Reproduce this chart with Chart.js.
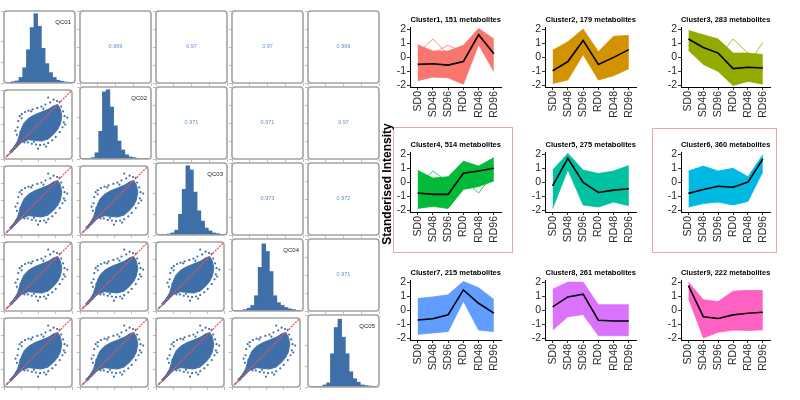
<!DOCTYPE html>
<html><head><meta charset="utf-8">
<script src="https://cdn.jsdelivr.net/npm/chart.js@4.4.0/dist/chart.umd.min.js"></script>
<style>
body{margin:0;background:#fff;width:800px;height:400px;overflow:hidden;position:relative;font-family:"Liberation Sans",Arial,sans-serif}
canvas{position:absolute}
.txt{position:absolute;white-space:nowrap}
</style></head><body>
<script>
// ---------- DATA ----------
const qcNames = ['QC01','QC02','QC03','QC04','QC05'];
const histQC01 = [1,1,2,3,8,22,48,80,100,82,50,28,15,8,4,2.5,1.5,1,0.5];
const histQC02 = [0.5,1,1,2,9,40,97,100,75,48,26,13,6,3,2,1,0.8,0.5,0.3];
const histQC03 = [0.5,1,1,1.5,3,7,30,66,100,94,62,35,20,10,6,3,2,1,0.5];
const histQC04 = [0.5,1,1,2,4,8,22,63,97,86,57,22,12,8,5,3,2,1,0.5];
const histQC05 = [0.3,0.5,1,1,3,6,48,86,98,72,48,22,12,7,3,2,1.5,1,0.5];
const corrQC01 = [0.969,0.97,0.97,0.969];
const corrQC02 = [0.971,0.971,0.97];
const corrQC03 = [0.973,0.972];
const corrQC04 = [0.971];
// scatter cloud of the QC-vs-QC panels: edges of the dense core and the sparse points around it
const blobUpper = [[0.8,1.0],[1.5,1.8],[2.0,2.6],[2.3,3.6],[2.6,4.5],[3.0,5.3],[3.6,5.9],[4.5,6.4],[5.5,6.8],[6.5,7.2],[7.3,7.7],[7.9,7.9],[8.3,7.2],[8.5,6.2]];
const blobLower = [[0.8,0.7],[1.5,1.3],[2.0,1.8],[2.3,2.1],[2.6,2.4],[3.0,2.6],[3.6,2.8],[4.5,2.7],[5.5,2.6],[6.5,2.9],[7.3,3.6],[7.9,4.3],[8.3,5.1],[8.5,6.2]];
const scatterPoints = [[0.5,0.5],[1.2,1.1],[1.8,1.9],[2.1,2.3],[1.9,3.5],[2.0,4.6],[2.1,5.5],[1.7,4.1],[2.3,6.2],[2.6,6.5],[3.1,6.8],[3.6,7.0],[4.2,7.2],[4.9,7.4],[5.5,7.6],[6.1,7.9],[6.8,8.2],[7.3,8.6],[6.5,8.9],[7.8,8.4],[8.2,8.3],[8.4,7.6],[8.7,6.9],[8.9,6.2],[8.8,5.3],[8.6,4.6],[9.0,5.0],[9.3,6.0],[8.2,3.9],[7.6,3.2],[7.1,2.7],[6.5,2.3],[5.9,2.1],[5.3,2.0],[4.7,2.1],[4.1,2.2],[3.5,2.4],[3.0,2.4],[5.0,1.5],[6.2,1.8],[2.4,3.9],[2.6,5.9],[4.0,6.9],[5.8,7.3],[7.6,7.0],[8.0,5.6],[7.8,4.4],[4.4,2.5],[3.2,2.7]];
const identityLine = [[0,0],[10,10]];

const timepoints = ['SD0','SD48','SD96','RD0','RD48','RD96'];
const clusterSizes = [151,179,283,514,275,360,215,261,222];
const meanC1 = [-0.5,-0.45,-0.55,-0.3,1.6,0.25];
const hiC1 = [0.9,0.45,0.45,0.85,2.05,1.3];
const loC1 = [-1.65,-1.4,-1.45,-1.9,0.9,-1.0];
const outC1 = [[0.3,1.3,0.2,0.5,1.8,0.8],[0.2,0.3,0.85,0.4,1.9,1.1]];
const meanC2 = [-0.95,-0.3,1.2,-0.5,0.0,0.55];
const hiC2 = [0.5,1.1,2.0,0.4,1.5,1.55];
const loC2 = [-1.85,-1.6,0.2,-1.6,-1.3,-0.8];
const outC2 = [];
const meanC3 = [1.3,0.7,0.3,-0.8,-0.7,-0.75];
const hiC3 = [1.9,1.6,1.3,0.3,0.3,0.2];
const loC3 = [0.5,-0.5,-1.0,-2.0,-1.7,-1.9];
const outC3 = [[0.9,0.6,0.0,1.3,0.3,-0.2],[0.5,0.3,-0.4,0.0,-0.5,1.05],[0.8,0.2,-0.3,-1.3,-1.75,-0.6]];
const meanC4 = [-0.75,-0.85,-0.85,0.65,0.8,1.0];
const hiC4 = [0.85,0.3,0.4,1.5,1.15,1.75];
const loC4 = [-1.85,-1.7,-1.85,-0.5,-0.3,0.1];
const outC4 = [[-0.2,0.8,0.0,0.9,0.8,1.2],[-0.5,-0.6,-0.7,0.2,-0.75,0.6]];
const meanC5 = [-0.25,1.7,0.0,-0.72,-0.55,-0.45];
const hiC5 = [0.87,2.05,0.87,0.63,0.8,1.2];
const loC5 = [-1.85,0.9,-1.6,-1.75,-1.4,-1.65];
const outC5 = [];
const meanC6 = [-0.78,-0.5,-0.28,-0.35,0.02,1.65];
const hiC6 = [0.8,1.15,0.8,1.0,0.4,1.95];
const loC6 = [-1.75,-1.5,-1.4,-1.6,-1.35,0.75];
const outC6 = [];
const meanC7 = [-0.68,-0.6,-0.32,1.45,0.5,-0.2];
const hiC7 = [0.84,0.95,1.1,2.05,1.6,0.77];
const loC7 = [-1.7,-1.6,-1.5,0.65,-1.4,-1.5];
const outC7 = [];
const meanC8 = [0.25,0.95,1.15,-0.7,-0.75,-0.75];
const hiC8 = [1.5,2.0,2.0,0.4,0.4,0.4];
const loC8 = [-1.4,-0.45,-0.3,-1.8,-1.8,-1.8];
const outC8 = [];
const meanC9 = [1.75,-0.45,-0.58,-0.32,-0.2,-0.13];
const hiC9 = [2.0,0.75,0.62,1.35,1.42,1.4];
const loC9 = [0.85,-1.95,-1.55,-1.4,-1.42,-1.38];
const outC9 = [];
const yTickValues = [-2,-1,0,1,2];

// ---------- STYLE / LAYOUT ----------
Chart.defaults.font.family = '"Liberation Sans", Arial, sans-serif';
Chart.defaults.animation = false;
Chart.defaults.devicePixelRatio = 1;
Chart.defaults.responsive = false;
Chart.defaults.plugins.legend.display = false;
Chart.defaults.plugins.tooltip.enabled = false;

const blue = '#3f6fa8';
const clusterColors = ['#F8766D','#D39200','#93AA00','#00BA38','#00C19F','#00B9E3','#619CFF','#DB72FB','#FF61C3'];

const panelBorder = {
  id: 'panelBorder',
  afterDraw(chart, args, opts) {
    if (!opts || !opts.color) return;
    const {ctx, chartArea: a} = chart;
    ctx.save();
    ctx.strokeStyle = opts.color; ctx.lineWidth = opts.width;
    ctx.beginPath();
    ctx.roundRect(a.left, a.top, a.right - a.left, a.bottom - a.top, opts.radius);
    ctx.stroke();
    ctx.restore();
  }
};

function makeCanvas(left, top, w, h) {
  const c = document.createElement('canvas');
  c.width = w; c.height = h;
  c.style.left = left + 'px'; c.style.top = top + 'px';
  c.style.width = w + 'px'; c.style.height = h + 'px';
  document.body.appendChild(c);
  return c;
}
function addText(text, left, top, css) {
  const d = document.createElement('div');
  d.className = 'txt'; d.textContent = text;
  d.style.left = left + 'px'; d.style.top = top + 'px';
  Object.assign(d.style, css || {});
  document.body.appendChild(d);
  return d;
}
const pts = arr => arr.map(p => ({x: p[0], y: p[1]}));

// ---------- PAIRS PLOT ----------
const histograms = [histQC01, histQC02, histQC03, histQC04, histQC05];
const corrRows = [corrQC01, corrQC02, corrQC03, corrQC04];
const binLabels = histQC01.map((_, k) => k);

function pairScales(isHist) {
  const tickGrid = {drawOnChartArea: false, tickLength: 3, color: '#bdbdbd', lineWidth: 1};
  return {
    x: isHist
      ? {type: 'category', ticks: {display: false}, grid: {display: false}, border: {display: false}, afterFit: s => { s.height = 5; }}
      : {type: 'linear', min: 0, max: 10, ticks: {display: false, stepSize: 2.5}, grid: tickGrid, border: {display: false}, afterFit: s => { s.height = 5; }},
    y: isHist
      ? {min: 0, max: 104, ticks: {display: false, stepSize: 30}, grid: tickGrid, border: {display: false}, afterFit: s => { s.width = 5; }}
      : {min: 0, max: 10, ticks: {display: false, stepSize: 2.5}, grid: tickGrid, border: {display: false}, afterFit: s => { s.width = 5; }}
  };
}
const borderOpts = {color: '#a3a3a3', width: 1.6, radius: 3};

for (let i = 0; i < 5; i++) {
  for (let j = 0; j < 5; j++) {
    const x0 = 4 + 76 * j, y0 = 11 + 76 * i, w = 71, h = 72;
    const cv = makeCanvas(x0 - 5, y0 - 1, w + 6, h + 6);
    const base = {layout: {padding: {top: 1, right: 1, left: 0, bottom: 0}}, plugins: {panelBorder: borderOpts}};
    if (i === j) {
      new Chart(cv, {
        type: 'bar',
        data: {labels: binLabels, datasets: [{data: histograms[i], backgroundColor: blue, borderWidth: 0, barPercentage: 1, categoryPercentage: 1}]},
        options: Object.assign({}, base, {scales: pairScales(true)}),
        plugins: [panelBorder]
      });
      addText(qcNames[i], x0 + w - 22, y0 + 8, {fontSize: '6px', color: '#222', width: '18px', textAlign: 'right'});
    } else if (i > j) {
      new Chart(cv, {
        type: 'line',
        data: {datasets: [
          {data: pts(identityLine), borderColor: 'rgb(240,80,80)', backgroundColor: 'rgb(240,80,80)', borderWidth: 1.2, borderDash: [2, 1], pointRadius: 0, fill: false},
          {data: pts(scatterPoints), showLine: false, pointRadius: 1.1, pointBackgroundColor: blue, pointBorderColor: blue, pointBorderWidth: 0},
          {data: pts(blobUpper), borderColor: blue, borderWidth: 1, pointRadius: 0, tension: 0, fill: '+1', backgroundColor: blue},
          {data: pts(blobLower), borderColor: blue, borderWidth: 1, pointRadius: 0, tension: 0, fill: false}
        ]},
        options: Object.assign({}, base, {scales: pairScales(false)}),
        plugins: [panelBorder]
      });
    } else {
      new Chart(cv, {
        type: 'line',
        data: {datasets: []},
        options: Object.assign({}, base, {scales: pairScales(false)}),
        plugins: [panelBorder]
      });
      const v = corrRows[i][j - i - 1];
      addText(String(v), x0, y0 + h / 2 - 4, {fontSize: '5.5px', color: '#5f8fcf', width: w + 'px', textAlign: 'center'});
    }
  }
}

// ---------- CLUSTER PANELS ----------
const clusterMeans = [meanC1, meanC2, meanC3, meanC4, meanC5, meanC6, meanC7, meanC8, meanC9];
const clusterHi = [hiC1, hiC2, hiC3, hiC4, hiC5, hiC6, hiC7, hiC8, hiC9];
const clusterLo = [loC1, loC2, loC3, loC4, loC5, loC6, loC7, loC8, loC9];
const clusterOut = [outC1, outC2, outC3, outC4, outC5, outC6, outC7, outC8, outC9];
const colLeft = [410, 545, 681], colW = [95, 95, 93], rowTop = [27, 152, 280];
const areaH = 60, yAxisW = 20, titleH = 15, xAxisH = 32;

for (let k = 0; k < 9; k++) {
  const r = Math.floor(k / 3), c = k % 3;
  const L = colLeft[c], T = rowTop[r], W = colW[c];
  const cv = makeCanvas(L - yAxisW, T - titleH, W + yAxisW + 3, areaH + titleH + xAxisH);
  const col = clusterColors[k];
  const ds = [{data: clusterMeans[k], borderColor: '#000', borderWidth: 1.6, pointRadius: 0, fill: false}];
  clusterOut[k].forEach(o => ds.push({data: o, borderColor: col, borderWidth: 0.8, pointRadius: 0, fill: false}));
  ds.push({data: clusterHi[k], borderColor: col, borderWidth: 0.8, pointRadius: 0, fill: '+1', backgroundColor: col});
  ds.push({data: clusterLo[k], borderColor: col, borderWidth: 0.8, pointRadius: 0, fill: false});
  new Chart(cv, {
    type: 'line',
    data: {labels: timepoints, datasets: ds},
    options: {
      layout: {padding: {top: 0, right: 3, left: 0, bottom: 0}},
      elements: {line: {tension: 0}},
      plugins: {
        title: {display: true, fullSize: false, text: 'Cluster' + (k + 1) + ', ' + clusterSizes[k] + ' metabolites',
          color: '#000', font: {size: 7.5, weight: 'bold'}, padding: {top: 3, bottom: 3}}
      },
      scales: {
        x: {type: 'category', offset: true, afterFit: s => { s.height = xAxisH; },
          ticks: {color: '#2b2b2b', font: {size: 10.5}, minRotation: 90, maxRotation: 90, autoSkip: false, padding: 1},
          grid: {drawOnChartArea: false, offset: false, tickLength: 3, color: '#333'},
          border: {display: true, color: '#000', width: 1}},
        y: {min: -2.1, max: 2.15, afterFit: s => { s.width = yAxisW; },
          afterBuildTicks: s => { s.ticks = yTickValues.map(v => ({value: v})); },
          ticks: {color: '#2b2b2b', font: {size: 10.5}, padding: 1, autoSkip: false},
          grid: {drawOnChartArea: false, tickLength: 3, color: '#333'},
          border: {display: true, color: '#000', width: 1}}
      }
    }
  });
}

// highlight boxes and shared y label
function box(l, t, r, b) {
  const d = document.createElement('div');
  Object.assign(d.style, {position: 'absolute', left: l + 'px', top: t + 'px', width: (r - l) + 'px', height: (b - t) + 'px', border: '1px solid #f2a3a3', boxSizing: 'border-box'});
  document.body.appendChild(d);
}
box(393, 127, 513, 253);
box(652, 128, 777, 253);
addText('Standerised Intensity', 387 - 80, 184 - 8, {width: '160px', textAlign: 'center', fontSize: '12px', fontWeight: 'bold', color: '#000', lineHeight: '16px', transform: 'rotate(-90deg)'});
</script>
</body></html>
